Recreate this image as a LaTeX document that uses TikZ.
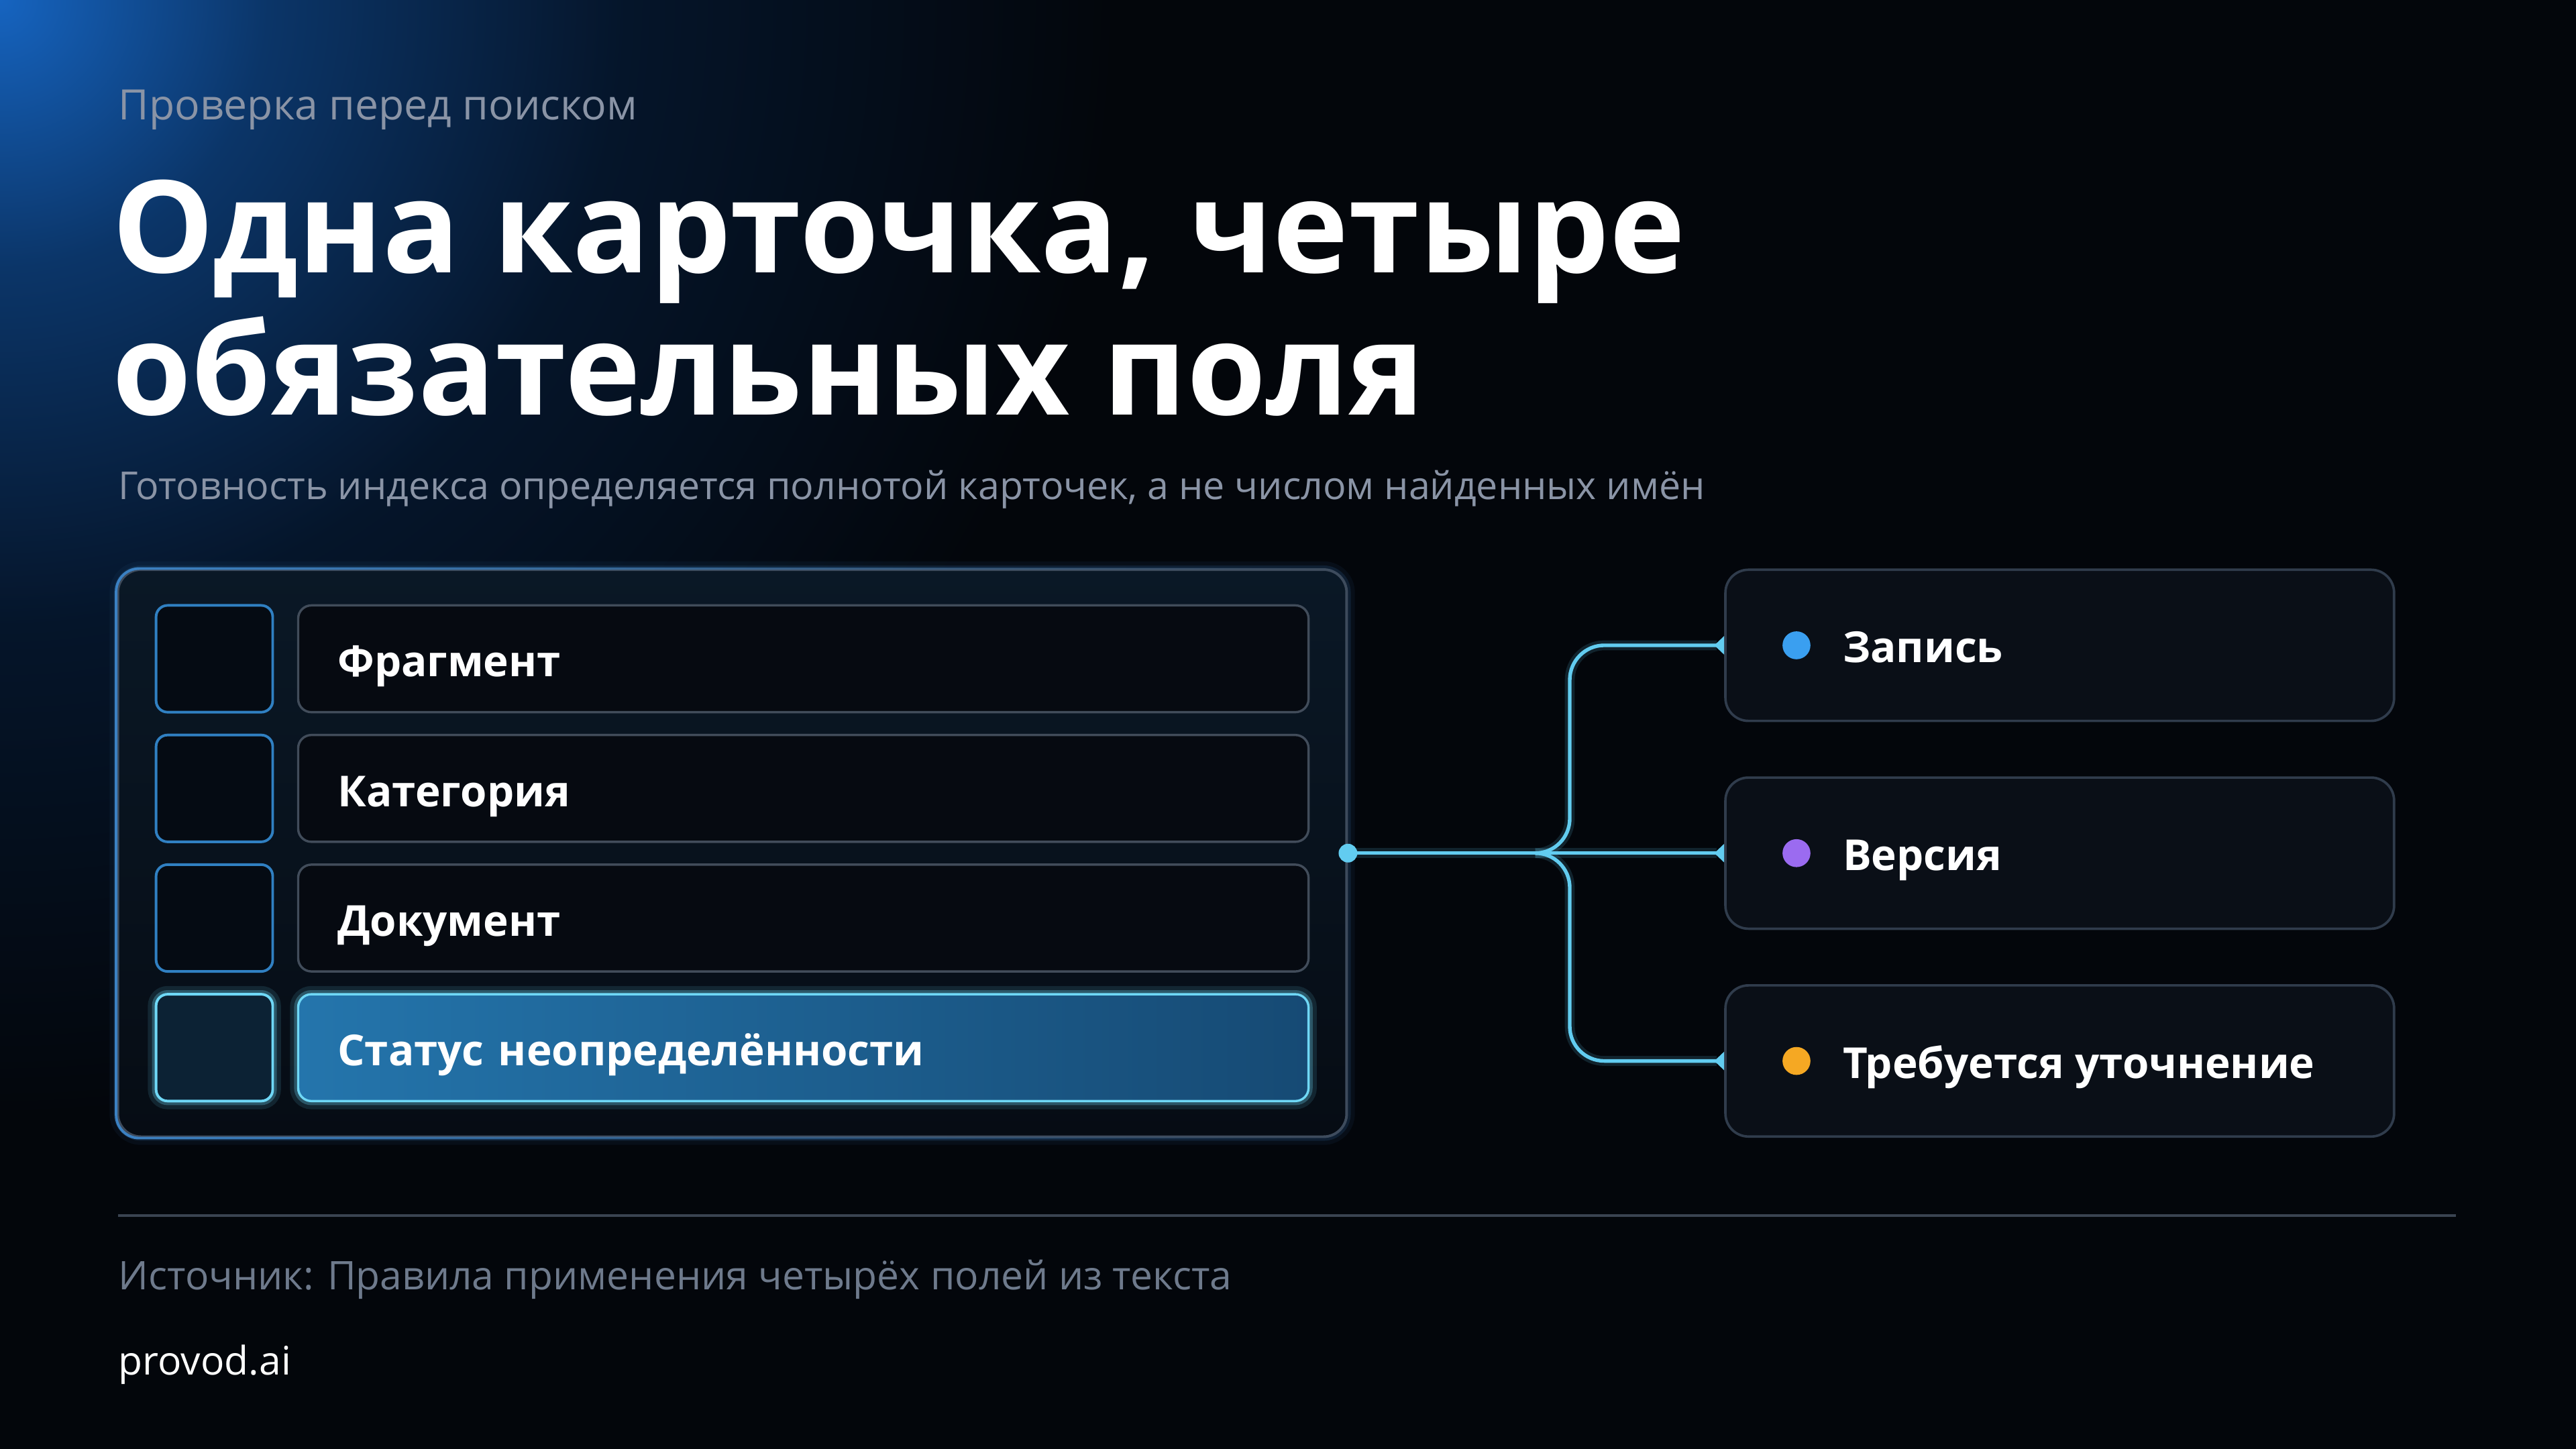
\documentclass[tikz,border=0pt]{standalone}
\usepackage{fontspec}
\setmainfont{Open Sans}
\usepackage{xcolor}
\usetikzlibrary{calc, positioning, fit, backgrounds, arrows.meta, fadings}

\definecolor{bgdark}{HTML}{03060B}
\definecolor{glowA}{HTML}{1664C0}
\definecolor{glowB}{HTML}{0B3568}
\definecolor{glowC}{HTML}{05152A}
\definecolor{greytext}{HTML}{8A94A6}
\definecolor{srctext}{HTML}{6E7A8C}
\definecolor{rulecol}{HTML}{3A4452}
\definecolor{panelline}{HTML}{3E4B5C}
\definecolor{panelblue}{HTML}{3C82C4}
\definecolor{panelfillT}{HTML}{0A1826}
\definecolor{panelfill}{HTML}{060C14}
\definecolor{chkline}{HTML}{3080C2}
\definecolor{chkfill}{HTML}{050B13}
\definecolor{barline}{HTML}{414C5A}
\definecolor{barfill}{HTML}{060A11}
\definecolor{cyanline}{HTML}{6FD8F6}
\definecolor{activeL}{HTML}{2475AC}
\definecolor{activeR}{HTML}{164A74}
\definecolor{activechk}{HTML}{0C2234}
\definecolor{linkcol}{HTML}{62CCF0}
\definecolor{outline}{HTML}{303C4C}
\definecolor{outfill}{HTML}{0A0F17}
\definecolor{dotblue}{HTML}{3A9FF0}
\definecolor{dotviolet}{HTML}{9B6BF0}
\definecolor{dotorange}{HTML}{F5A823}

\pgfdeclareradialshading{cornerglow}{\pgfpoint{0bp}{0bp}}{%
  color(0bp)=(glowA); color(6bp)=(glowB); color(14bp)=(glowC);
  color(25bp)=(bgdark); color(50bp)=(bgdark)}
\tikzfading[name=fade right, left color=transparent!0, right color=transparent!100]

\begin{document}
\begin{tikzpicture}[x=1pt,y=-1pt,
    checkbox/.style={draw=chkline,fill=chkfill,line width=1.6pt,rounded corners=7pt,
      minimum width=71pt,minimum height=65pt,inner sep=0pt},
    fieldbar/.style={draw=barline,fill=barfill,line width=1.4pt,rounded corners=8pt,
      minimum width=615pt,minimum height=65pt,inner xsep=24pt,inner ysep=0pt,
      text width=567pt,align=left,text height=25pt,text depth=3pt,
      text=white,font=\fontsize{26}{30}\selectfont\bfseries},
    glow/.style={preaction={draw=#1,line width=10pt,opacity=0.12},
      preaction={draw=#1,line width=5pt,opacity=0.28}},
    panel/.style={draw=panelline,line width=1.6pt,rounded corners=14pt,
      top color=panelfillT,bottom color=panelfill,inner xsep=22.5pt,inner ysep=21pt},
    outbox/.style={draw=outline,fill=outfill,line width=1.5pt,rounded corners=14pt,
      minimum width=407pt,minimum height=92pt,inner sep=0pt},
    outdot/.style={circle,fill=#1,minimum size=17pt,inner sep=0pt},
    outtext/.style={anchor=base west,inner sep=0pt,text=white,
      font=\fontsize{26}{30}\selectfont\bfseries},
    link/.style={draw=linkcol,line width=2.2pt,
      preaction={draw=linkcol,line width=6pt,opacity=0.15},
      -{Triangle[reversed,length=6pt,width=11pt]}},
    caption/.style={anchor=base west,inner sep=0pt,text=greytext,
      font=\fontsize{24}{28}\selectfont},
    headline/.style={anchor=base west,inner sep=0pt,text=white,
      font=\fontsize{78}{84}\selectfont\bfseries}]

 \useasboundingbox (0,0) rectangle (1568,882);

 % heading
 \node[caption,font=\fontsize{25.5}{28}\selectfont] (kicker) at (72,73) {Проверка перед поиском};
 \node[headline] (title1) at (68,166) {Одна карточка, четыре};
 \node[headline] (title2) at (68,252.5) {обязательных поля};
 \node[caption,font=\fontsize{23.4}{28}\selectfont] (lead) at (72,304) {Готовность индекса определяется полнотой карточек, а не числом найденных имён};

 % card rows
 \node[checkbox] (chk1) at (130.5,401) {};
 \node[checkbox] (chk2) [below=12.3pt of chk1] {};
 \node[checkbox] (chk3) [below=12.3pt of chk2] {};
 \node[checkbox,glow=cyanline,draw=cyanline,fill=activechk] (chk4) [below=12.3pt of chk3] {};

 \node[fieldbar] (fragment) [right=14pt of chk1] {Фрагмент};
 \node[fieldbar] (category) [right=14pt of chk2] {Категория};
 \node[fieldbar] (document) [right=14pt of chk3] {Документ};
 \node[fieldbar,glow=cyanline,draw=cyanline,left color=activeL,right color=activeR]
   (status) [right=14pt of chk4] {Статус неопределённости};

 \begin{scope}[on background layer]
  \fill[bgdark] (0,0) rectangle (1568,882);
  \begin{scope}
   \clip (0,0) rectangle (1568,882);
   \shade[shading=cornerglow] (0,0) circle (680);
  \end{scope}
  \node[panel,glow=panelblue!60!black,fit=(chk1)(status)] (panel) {};
  \draw[panelblue,line width=1.6pt,rounded corners=14pt,path fading=fade right]
    (panel.north west) rectangle (panel.south east);
 \end{scope}

 % outcomes
 \node[outbox] (versiya) [right=229pt of panel] {};
 \node[outbox] (zapis) [above=33pt of versiya] {};
 \node[outbox] (utochn) [below=33pt of versiya] {};

 \node[outdot=dotblue] (zapisdot) at ([xshift=44pt]zapis.west) {};
 \node[outdot=dotviolet] (versiyadot) at ([xshift=44pt]versiya.west) {};
 \node[outdot=dotorange] (utochndot) at ([xshift=44pt]utochn.west) {};
 \node[outtext] at ([xshift=72pt,yshift=-10.5pt]zapis.west) {Запись};
 \node[outtext] at ([xshift=72pt,yshift=-10.5pt]versiya.west) {Версия};
 \node[outtext] at ([xshift=72pt,yshift=-10.5pt]utochn.west) {Требуется уточнение};

 % connectors
 \coordinate (fork) at ($(panel.east)+(114,0)$);
 \draw[link] (panel.east) -- (versiya.west);
 \draw[link,rounded corners=21pt] (fork) -- ++(21,0) |- (zapis.west);
 \draw[link,rounded corners=21pt] (fork) -- ++(21,0) |- (utochn.west);
 \fill[linkcol] (panel.east) circle (5.7);

 % footer
 \coordinate (ruleL) at (72,740);
 \coordinate (ruleR) at (1495,740);
 \draw[rulecol,line width=1.8pt] (ruleL) -- (ruleR);
 \node[caption,text=srctext] (source) at (72,785) {Источник: Правила применения четырёх полей из текста};
 \node[caption,text=white] (brand) at (72,837) {provod.ai};

\end{tikzpicture}
\end{document}
